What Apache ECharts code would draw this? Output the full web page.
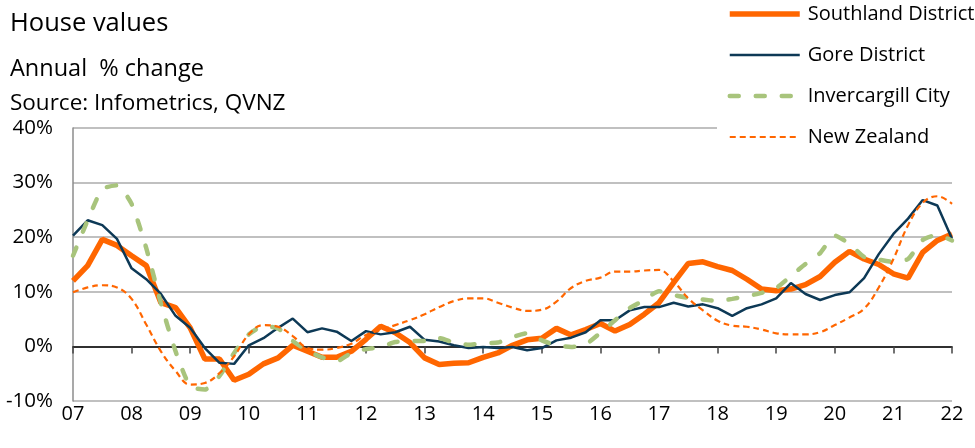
<!DOCTYPE html>
<html>
<head>
<meta charset="utf-8">
<script src="https://cdn.jsdelivr.net/npm/echarts@6/dist/echarts.min.js"></script>
<style>
html,body{margin:0;padding:0;background:#fff;}
#chart{width:975px;height:448px;}
</style>
</head>
<body>
<div id="chart"></div>
<script>
// Tick labels (years) and quarterly categories
var yearLabels = ['07','08','09','10','11','12','13','14','15','16','17','18','19','20','21','22'];
var quarters = ['Q1','Q2','Q3','Q4'];

// Annual % change, quarterly
var southland = [12.0,14.8,19.6,18.5,16.6,14.8,8.0,7.1,3.4,-2.3,
  -2.3,-6.2,-5.1,-3.2,-2.1,0.2,-0.9,-2.0,-2.0,-0.9,
  1.3,3.7,2.5,0.7,-2.1,-3.3,-3.1,-3.0,-2.0,-1.2,
  0.2,1.2,1.5,3.3,2.1,3.1,4.2,2.8,4.0,5.9,
  8.0,11.7,15.2,15.5,14.6,13.9,12.3,10.5,10.2,10.5,
  11.3,12.8,15.4,17.4,16.0,15.0,13.3,12.5,17.2,19.4,
  20.6];
var gore = [20.3,23.1,22.2,19.7,14.3,12.3,9.6,5.6,3.4,-0.3,
  -3.0,-3.2,0.2,1.5,3.4,5.1,2.6,3.3,2.7,1.0,
  2.8,2.2,2.6,3.6,1.2,0.9,0.2,-0.3,-0.1,-0.3,
  -0.1,-0.7,-0.3,1.1,1.6,2.6,4.8,4.8,6.6,7.2,
  7.2,8.0,7.3,7.7,7.0,5.6,7.0,7.7,8.8,11.6,
  9.6,8.5,9.4,9.9,12.5,16.9,20.6,23.4,26.8,25.8,
  19.7];
var invercargill = [16.6,23.1,28.8,29.5,26.1,18.0,7.9,-0.9,-7.3,-7.9,
  -5.4,-1.2,2.2,3.7,3.3,1.0,-0.8,-2.0,-2.7,-1.2,
  -0.5,-0.1,0.8,1.0,1.0,1.5,0.7,0.3,0.6,0.7,
  1.7,2.4,1.1,0.2,-0.1,0.4,2.5,4.8,7.0,8.5,
  10.1,9.4,8.9,8.6,8.3,8.7,9.2,9.8,10.7,12.9,
  15.1,17.1,20.3,18.8,16.4,15.9,15.5,16.0,19.5,20.4,
  19.4];
var newZealand = [9.9,10.8,11.2,10.8,8.7,4.0,-0.9,-4.5,-7.0,-6.7,
  -4.9,-1.8,2.2,3.9,3.6,1.9,-0.3,-0.6,-0.3,0.5,
  2.1,3.0,3.9,4.8,5.9,7.2,8.3,8.8,8.8,8.0,
  7.1,6.5,6.7,8.2,10.7,12.0,12.6,13.7,13.7,13.9,
  14.0,11.9,8.8,6.6,4.7,3.8,3.6,3.1,2.4,2.2,
  2.2,2.6,3.9,5.3,6.9,10.8,16.0,22.2,26.3,27.5,
  26.1];

var categories = [];
yearLabels.forEach(function (y, yi) {
  quarters.forEach(function (q, qi) {
    if (yi === yearLabels.length - 1 && qi > 0) return;
    categories.push(y + (qi === 0 ? '' : q));
  });
});

var FONT = 'Open Sans';
var chart = echarts.init(document.getElementById('chart'), null, {renderer: 'canvas'});
chart.setOption({
  animation: false,
  backgroundColor: '#fff',
  textStyle: {fontFamily: FONT},
  title: [
    {text: 'House values', left: 5, top: 6, textStyle: {fontFamily: FONT, fontSize: 25.5, fontWeight: 'normal', color: '#000'}},
    {text: 'Annual  % change', left: 5, top: 52, textStyle: {fontFamily: FONT, fontSize: 23.5, fontWeight: 'normal', color: '#000'}},
    {text: 'Source: Infometrics, QVNZ', left: 5, top: 87, textStyle: {fontFamily: FONT, fontSize: 22.5, fontWeight: 'normal', color: '#000'}}
  ],
  legend: {
    orient: 'vertical',
    left: 717,
    top: 2,
    padding: [2, 4, 10, 10],
    backgroundColor: '#fff',
    itemWidth: 70,
    itemHeight: 14,
    itemGap: 21,
    itemStyle: {opacity: 0},
    lineStyle: {width: 'inherit'},
    textStyle: {fontFamily: FONT, fontSize: 20, color: '#000', lineHeight: 20, padding: [0, 0, 0, 3]},
    data: ['Southland District', 'Gore District', 'Invercargill City', 'New Zealand']
  },
  grid: {left: 73, right: 23, top: 128, bottom: 47, containLabel: false},
  xAxis: [
    {
      type: 'category', data: categories, boundaryGap: false, position: 'bottom',
      axisLine: {show: false, onZero: false},
      axisTick: {show: false},
      axisLabel: {
        interval: 3, margin: 3, color: '#000', fontFamily: FONT, fontSize: 20,
        formatter: function (v) { return v.slice(0, 2); }
      },
      splitLine: {show: false}
    },
    {
      type: 'category', data: categories, boundaryGap: false, position: 'bottom',
      axisLine: {show: true, onZero: true, lineStyle: {color: '#000', width: 1.5}},
      axisTick: {show: true, interval: 3, length: 7, lineStyle: {color: '#444', width: 1.5}},
      axisLabel: {show: false},
      splitLine: {show: false}
    }
  ],
  yAxis: {
    type: 'value', min: -10, max: 40, interval: 10,
    axisLine: {show: true, onZero: false, lineStyle: {color: '#8c8c8c', width: 1.5}},
    axisTick: {show: false},
    axisLabel: {formatter: '{value}%', color: '#000', fontFamily: FONT, fontSize: 20.5, margin: 20},
    splitLine: {show: true, lineStyle: {color: '#ababab', width: 1.5}}
  },
  series: [
    {
      name: 'Southland District', type: 'line', data: southland, symbol: 'none',
      lineStyle: {color: '#ff6600', width: 5.5}, itemStyle: {color: '#ff6600'}, z: 2
    },
    {
      name: 'Gore District', type: 'line', data: gore, symbol: 'none',
      lineStyle: {color: '#0d3956', width: 2.5}, itemStyle: {color: '#0d3956'}, z: 3
    },
    {
      name: 'Invercargill City', type: 'line', data: invercargill, symbol: 'none', smooth: 0.2,
      lineStyle: {color: '#a8c47c', width: 4.5, type: [9, 17], cap: 'round'}, itemStyle: {color: '#a8c47c'}, z: 4
    },
    {
      name: 'New Zealand', type: 'line', data: newZealand, symbol: 'none', smooth: 0.4,
      lineStyle: {color: '#ff6600', width: 2.2, type: [6, 4]}, itemStyle: {color: '#ff6600'}, z: 5
    }
  ]
});
</script>
</body>
</html>
